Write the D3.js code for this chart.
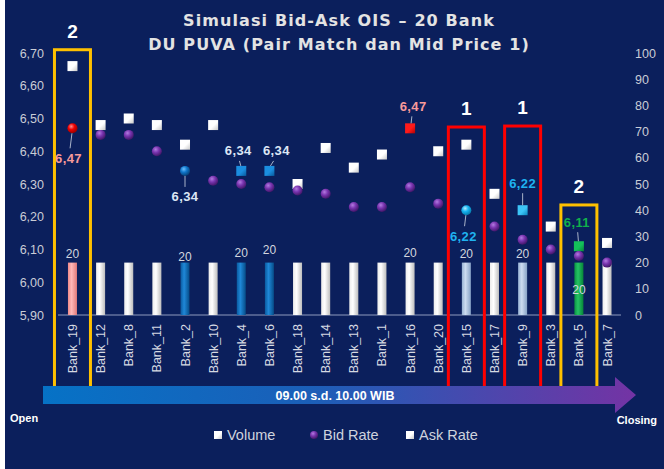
<!DOCTYPE html>
<html>
<head>
<meta charset="utf-8">
<script src="https://cdn.jsdelivr.net/npm/d3@7"></script>
<style>
	html, body { margin: 0; padding: 0; background: #ffffff; }
	svg { display: block; }
</style>
</head>
<body>
<svg id="chart"></svg>
<script>
const banks = ["Bank_19", "Bank_12", "Bank_8", "Bank_11", "Bank_2", "Bank_10", "Bank_4", "Bank_6", "Bank_18", "Bank_14",
	"Bank_13", "Bank_1", "Bank_16", "Bank_20", "Bank_15", "Bank_17", "Bank_9", "Bank_3", "Bank_5", "Bank_7"];
const volume = [20, 20, 20, 20, 20, 20, 20, 20, 20, 20, 20, 20, 20, 20, 20, 20, 20, 20, 20, 20];
const bidRate = [6.47, 6.45, 6.45, 6.40, 6.34, 6.31, 6.30, 6.29, 6.28, 6.27, 6.23, 6.23, 6.29, 6.24, 6.22, 6.17, 6.13, 6.10, 6.08, 6.06];
const askRate = [6.66, 6.48, 6.50, 6.48, 6.42, 6.48, 6.34, 6.34, 6.30, 6.41, 6.35, 6.39, 6.47, 6.40, 6.42, 6.27, 6.22, 6.17, 6.11, 6.12];
const rateTicks = [5.9, 6.0, 6.1, 6.2, 6.3, 6.4, 6.5, 6.6, 6.7];
const volumeTicks = [0, 10, 20, 30, 40, 50, 60, 70, 80, 90, 100];
const titleLines = ["Simulasi Bid-Ask OIS \u2013 20 Bank", "DU PUVA (Pair Match dan Mid Price 1)"];
const legendLabels = ["Volume", "Bid Rate", "Ask Rate"];

// highlight colours per bank (bar / bid dot / ask square)
const barColor = { Bank_19: "pink", Bank_2: "blue", Bank_4: "blue", Bank_6: "blue", Bank_15: "light", Bank_9: "light", Bank_5: "green" };
const bidColor = { Bank_19: "red", Bank_2: "blue", Bank_15: "cyan" };
const askColor = { Bank_4: "blue", Bank_6: "blue", Bank_16: "red", Bank_9: "cyan", Bank_5: "green" };

// value call-outs: which marker, label offset, label colour
const callouts = [
	{ bank: "Bank_19", s: "bid", dx: -4, dy: 30, c: "#f79a9a" },
	{ bank: "Bank_2", s: "bid", dx: 0, dy: 26, c: "#dde6f5" },
	{ bank: "Bank_4", s: "ask", dx: -3, dy: -20, c: "#dde6f5" },
	{ bank: "Bank_6", s: "ask", dx: 7, dy: -20, c: "#dde6f5" },
	{ bank: "Bank_16", s: "ask", dx: 3, dy: -22, c: "#f79a9a" },
	{ bank: "Bank_15", s: "bid", dx: -3, dy: 26, c: "#1fb2f0" },
	{ bank: "Bank_9", s: "ask", dx: 0, dy: -27, c: "#1fb2f0" },
	{ bank: "Bank_5", s: "ask", dx: -2, dy: -24, c: "#10b04c" }
];
const volumeCallouts = [
	{ bank: "Bank_19", dy: -5 }, { bank: "Bank_2", dy: -2 }, { bank: "Bank_4", dy: -6 }, { bank: "Bank_6", dy: -9 },
	{ bank: "Bank_16", dy: -6 }, { bank: "Bank_15", dy: -5 }, { bank: "Bank_9", dy: -5 }, { bank: "Bank_5", dy: 31 }
];
const boxes = [
	{ bank: "Bank_19", top: 6.71, c: "#ffc000", num: "2" },
	{ bank: "Bank_15", top: 6.474, c: "#ff0000", num: "1" },
	{ bank: "Bank_9", top: 6.477, c: "#ff0000", num: "1" },
	{ bank: "Bank_5", top: 6.236, c: "#ffc000", num: "2" }
];

const w = 664, h = 469;
const bg = "#0b1f5c";
const font = "'Liberation Sans', Arial, sans-serif";

const comma = d3.formatLocale({ decimal: ",", thousands: ".", grouping: [3], currency: ["", ""] });
const fmt2 = comma.format(".2f");

let data = banks.map((b, i) => ({ bank: b, vol: volume[i], bid: bidRate[i], ask: askRate[i] }));

let x = d3.scaleBand().domain(banks).range([58.4, 621.1]).paddingInner(0.68).paddingOuter(0.34);
let cx = b => x(b) + x.bandwidth() / 2;
let yL = d3.scaleLinear().domain([5.9, 6.7]).range([315, 53]);
let yR = d3.scaleLinear().domain([0, 100]).range([315, 53]);

let svg = d3.select("#chart").attr("width", w).attr("height", h);

let defs = svg.append("defs");

const barPal = {
	white: ["#ececec", "#ffffff", "#bdbdbd"],
	pink: ["#f08a8a", "#ffb8b8", "#e27a7a"],
	blue: ["#0a5aa0", "#1f88d8", "#064c88"],
	light: ["#97b1d3", "#cddcf0", "#87a2c6"],
	green: ["#0a9442", "#25c364", "#078438"]
};
Object.entries(barPal).forEach(([k, c]) => {
	let g = defs.append("linearGradient").attr("id", "bar-" + k)
		.attr("x1", "0%").attr("x2", "100%").attr("y1", "0%").attr("y2", "0%");
	g.append("stop").attr("offset", "0%").attr("stop-color", c[0]);
	g.append("stop").attr("offset", "40%").attr("stop-color", c[1]);
	g.append("stop").attr("offset", "100%").attr("stop-color", c[2]);
});

const dotPal = {
	purple: ["#b27be0", "#7a35b0", "#3f1566"],
	red: ["#ff8a8a", "#f00000", "#900000"],
	blue: ["#6ec0ff", "#1077cc", "#053f75"],
	cyan: ["#b8ecff", "#16b4f2", "#0577a8"]
};
Object.entries(dotPal).forEach(([k, c]) => {
	let g = defs.append("radialGradient").attr("id", "dot-" + k)
		.attr("cx", "38%").attr("cy", "32%").attr("r", "70%");
	g.append("stop").attr("offset", "0%").attr("stop-color", c[0]);
	g.append("stop").attr("offset", "45%").attr("stop-color", c[1]);
	g.append("stop").attr("offset", "100%").attr("stop-color", c[2]);
});

const sqPal = {
	white: ["#ffffff", "#c8c8c8"],
	blue: ["#1b8ee0", "#075a9c"],
	red: ["#ff1a1a", "#b00000"],
	cyan: ["#3cc4f7", "#0a85bf"],
	green: ["#14c05a", "#07853a"]
};
Object.entries(sqPal).forEach(([k, c]) => {
	let g = defs.append("linearGradient").attr("id", "sq-" + k)
		.attr("x1", "0%").attr("x2", "100%").attr("y1", "0%").attr("y2", "100%");
	g.append("stop").attr("offset", "55%").attr("stop-color", c[0]);
	g.append("stop").attr("offset", "100%").attr("stop-color", c[1]);
});

let arrowGrad = defs.append("linearGradient").attr("id", "arrowGrad")
	.attr("x1", "0%").attr("x2", "100%").attr("y1", "0%").attr("y2", "0%");
arrowGrad.append("stop").attr("offset", "0%").attr("stop-color", "#0672c6");
arrowGrad.append("stop").attr("offset", "45%").attr("stop-color", "#1b5fb8");
arrowGrad.append("stop").attr("offset", "100%").attr("stop-color", "#7433a4");

// background
svg.append("rect").attr("width", w).attr("height", h).attr("fill", "#ffffff");
svg.append("rect").attr("x", 5).attr("y", 0).attr("width", w - 5).attr("height", h).attr("fill", bg);

// title
svg.append("g").selectAll("text")
	.data(titleLines)
	.enter()
	.append("text")
	.text(d => d)
	.attr("x", 339)
	.attr("y", (d, i) => 26 + i * 24)
	.attr("text-anchor", "middle")
	.attr("font-family", "'DejaVu Sans', sans-serif")
	.attr("font-weight", "bold")
	.attr("font-size", "16px")
	.attr("letter-spacing", "1.1px")
	.attr("fill", "#e3e3e3");

// axes
let leftAxis = svg.append("g")
	.attr("transform", "translate(44,0)")
	.call(d3.axisLeft(yL).tickValues(rateTicks).tickFormat(fmt2).tickSize(0).tickPadding(0));
let rightAxis = svg.append("g")
	.attr("transform", "translate(635,0)")
	.call(d3.axisRight(yR).tickValues(volumeTicks).tickSize(0).tickPadding(0));
[leftAxis, rightAxis].forEach(a => {
	a.select(".domain").remove();
	a.selectAll("text")
		.attr("font-family", font)
		.attr("font-size", "12.5px")
		.attr("fill", "#c9ccd6");
});

// baseline
svg.append("line")
	.attr("x1", 58).attr("x2", 621)
	.attr("y1", yR(0)).attr("y2", yR(0))
	.attr("stroke", "#8f9bbd")
	.attr("stroke-width", 1);

// volume bars
svg.append("g").selectAll("rect")
	.data(data)
	.enter()
	.append("rect")
	.attr("x", d => x(d.bank))
	.attr("y", d => yR(d.vol))
	.attr("width", x.bandwidth())
	.attr("height", d => yR(0) - yR(d.vol))
	.attr("fill", d => "url(#bar-" + (barColor[d.bank] || "white") + ")");

// bank labels
svg.append("g").selectAll("text")
	.data(data)
	.enter()
	.append("text")
	.text(d => d.bank)
	.attr("transform", d => `translate(${cx(d.bank) + 4.5},${yR(0) + 9}) rotate(-90)`)
	.attr("text-anchor", "end")
	.attr("font-family", font)
	.attr("font-size", "12.5px")
	.attr("fill", "#d6d9e2");

// ask squares
const sq = 10;
svg.append("g").selectAll("rect")
	.data(data)
	.enter()
	.append("rect")
	.attr("x", d => cx(d.bank) - sq / 2)
	.attr("y", d => yL(d.ask) - sq / 2)
	.attr("width", sq)
	.attr("height", sq)
	.attr("fill", d => "url(#sq-" + (askColor[d.bank] || "white") + ")");

// bid dots
svg.append("g").selectAll("circle")
	.data(data)
	.enter()
	.append("circle")
	.attr("cx", d => cx(d.bank))
	.attr("cy", d => yL(d.bid))
	.attr("r", 5)
	.attr("fill", d => "url(#dot-" + (bidColor[d.bank] || "purple") + ")");

// value call-outs with leader lines
let byBank = new Map(data.map(d => [d.bank, d]));
let co = svg.append("g");
callouts.forEach(c => {
	let d = byBank.get(c.bank);
	let mx = cx(c.bank), my = yL(d[c.s]);
	let lx = mx + c.dx, ly = my + c.dy;
	let sgn = c.dy > 0 ? 1 : -1;
	co.append("line")
		.attr("x1", mx + (c.dx > 0 ? 1 : c.dx < 0 ? -0.5 : 0)).attr("y1", my + sgn * 5)
		.attr("x2", lx - c.dx * 0.4).attr("y2", ly - sgn * 10)
		.attr("stroke", "#a9b3c9")
		.attr("stroke-width", 1);
	co.append("text")
		.text(fmt2(d[c.s]))
		.attr("x", lx)
		.attr("y", ly + 4.5)
		.attr("text-anchor", "middle")
		.attr("font-family", font)
		.attr("font-weight", "bold")
		.attr("font-size", "13px")
		.attr("letter-spacing", "0.4px")
		.attr("fill", c.c);
});

// volume call-outs
svg.append("g").selectAll("text")
	.data(volumeCallouts)
	.enter()
	.append("text")
	.text(d => byBank.get(d.bank).vol)
	.attr("x", d => cx(d.bank))
	.attr("y", d => yR(byBank.get(d.bank).vol) + d.dy)
	.attr("text-anchor", "middle")
	.attr("font-family", font)
	.attr("font-size", "12px")
	.attr("fill", "#d3d6df");

// highlight boxes
let bx = svg.append("g");
boxes.forEach(b => {
	let c = cx(b.bank);
	let top = yL(b.top);
	bx.append("rect")
		.attr("x", c - 18).attr("y", top)
		.attr("width", 36).attr("height", 394 - top)
		.attr("fill", "none")
		.attr("stroke", b.c)
		.attr("stroke-width", 3);
	bx.append("text")
		.text(b.num)
		.attr("x", c)
		.attr("y", top - 12)
		.attr("text-anchor", "middle")
		.attr("font-family", font)
		.attr("font-weight", "bold")
		.attr("font-size", "19px")
		.attr("fill", "#ffffff");
});

// time arrow
svg.append("path")
	.attr("d", "M43,386 L615,386 L615,377 L636,395 L615,413 L615,404 L43,404 Z")
	.attr("fill", "url(#arrowGrad)");
svg.append("text")
	.text("09.00 s.d. 10.00 WIB")
	.attr("x", 335).attr("y", 400)
	.attr("text-anchor", "middle")
	.attr("font-family", font)
	.attr("font-weight", "bold")
	.attr("font-size", "12.5px")
	.attr("fill", "#ffffff");
svg.append("text")
	.text("Open")
	.attr("x", 10).attr("y", 422)
	.attr("font-family", font)
	.attr("font-weight", "bold")
	.attr("font-size", "11px")
	.attr("fill", "#ffffff");
svg.append("text")
	.text("Closing")
	.attr("x", 657).attr("y", 424)
	.attr("text-anchor", "end")
	.attr("font-family", font)
	.attr("font-weight", "bold")
	.attr("font-size", "11px")
	.attr("fill", "#ffffff");

// legend
const legX = [218, 314, 410];
let leg = svg.append("g");
legendLabels.forEach((l, i) => {
	if (i === 1) {
		leg.append("circle").attr("cx", legX[i]).attr("cy", 435).attr("r", 4).attr("fill", "url(#dot-purple)");
	} else {
		leg.append("rect").attr("x", legX[i] - 4).attr("y", 431).attr("width", 8).attr("height", 8)
			.attr("fill", "url(#sq-white)");
	}
	leg.append("text")
		.text(l)
		.attr("x", legX[i] + 9)
		.attr("y", 440)
		.attr("font-family", font)
		.attr("font-size", "14.5px")
		.attr("fill", "#cfd3de");
});
</script>
</body>
</html>
